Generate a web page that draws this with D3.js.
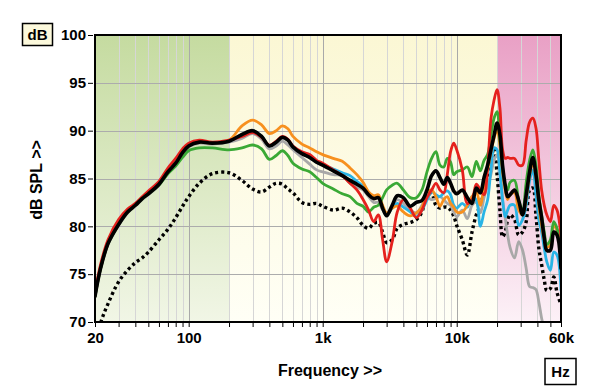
<!DOCTYPE html>
<html lang="en">
<head>
  <meta charset="utf-8">
  <title>Frequency response</title>
  <style>
    body { margin: 0; background: #fff; }
    text { font-family: "Liberation Sans", Arial, sans-serif; font-weight: bold; fill: #000; }
    .grid line { shape-rendering: crispEdges; }
    .axis path { display: none; }
    .axis line { stroke: #000; }
    .axis text { font-size: 15px; }
    .curve { fill: none; stroke-linejoin: round; }
  </style>
</head>
<body>
  <div id="chart"></div>

  <script src="https://d3js.org/d3.v7.min.js"></script>
  <script>
    // frequencies (Hz) shared by every series
    var freqs = [20, 22, 25, 30, 35, 40, 45, 50, 60, 70, 80, 90, 100, 120, 150, 200, 250, 300, 350, 400,
      450, 500, 550, 600, 700, 800, 900, 1000, 1200, 1400, 1600, 1800, 2000, 2200, 2400, 2600, 2800, 3000,
      3300, 3600, 4000, 4500, 5000, 5500, 6000, 6500, 7000, 7500, 8000, 8500, 9000, 9500, 10000, 11000,
      12000, 13000, 14000, 15000, 16000, 17000, 18000, 19000, 20000, 21000, 22000, 23000, 24000, 25000,
      27000, 29000, 31000, 33000, 35000, 37000, 39000, 41000, 43000, 45000, 47000, 50000, 53000, 56000, 60000];

    // dB SPL values
    var black = [72.7, 75.6, 78.2, 80.2, 81.5, 82.2, 82.9, 83.4, 84.4, 85.7, 86.6, 87.7, 88.4, 88.8, 88.7, 88.9, 89.6, 90.0, 89.4, 88.4,
      88.8, 89.3, 89.0, 88.3, 87.6, 87.2, 86.7, 86.4, 85.8, 85.3, 84.8, 84.4, 84.0, 83.3, 82.9, 83.0, 81.9, 81.1,
      82.2, 83.2, 83.0, 82.1, 82.5, 82.7, 83.8, 85.3, 85.8, 85.1, 84.4, 85.1, 84.5, 83.7, 83.4, 83.8,
      83.0, 82.4, 84.0, 83.5, 85.1, 86.4, 88.0, 89.5, 90.8, 89.6, 86.3, 84.3, 83.1, 83.3,
      83.8, 82.7, 81.2, 83.3, 85.7, 87.2, 85.4, 82.75, 80.9, 78.8, 77.5, 77.5, 79.4, 79.1, 75.6];

    var red = [73.1, 76.0, 78.6, 80.7, 81.8, 82.4, 83.1, 83.7, 84.7, 86.1, 87.1, 88.1, 88.7, 89.0, 88.8, 89.0, 89.4, 89.8, 89.3, 88.5,
      88.9, 89.4, 89.1, 88.4, 87.8, 87.5, 86.9, 86.6, 85.9, 85.3, 84.5, 83.8, 82.8, 81.7, 80.5, 81.2, 78.6, 76.3,
      78.4, 81.5, 82.8, 81.9, 80.9, 81.7, 83.0, 83.8, 84.5, 83.8, 83.5, 85.4, 87.8, 88.7, 88.0, 85.9,
      82.4, 82.75, 84.4, 83.8, 83.3, 86.1, 91.2, 93.2, 94.3, 92.4, 88.0, 87.1, 87.2, 87.1,
      87.1, 86.4, 86.4, 89.0, 90.9, 91.3, 90.3, 86.9, 83.8, 82.2, 81.2, 80.5, 82.2, 81.7, 78.9];

    var orange = [72.7, 75.6, 78.2, 80.2, 81.5, 82.2, 82.9, 83.4, 84.4, 85.7, 86.6, 87.7, 88.4, 88.8, 88.7, 89.0, 90.5, 91.1, 90.6, 89.7,
      90.0, 90.5, 90.2, 89.4, 88.6, 88.2, 87.8, 87.5, 87.1, 86.8, 86.1, 85.4, 84.6, 83.6, 83.2, 83.3, 82.2, 81.4,
      81.9, 82.1, 81.5, 81.1, 81.4, 82.0, 83.6, 83.8, 83.1, 82.1, 82.8, 83.1, 82.4, 82.0, 81.5, 81.5,
      82.2, 83.1, 83.6, 82.2, 84.3, 85.9, 87.8, 89.2, 90.1, 88.5, 85.7, 83.8, 82.8, 83.3,
      83.5, 81.7, 81.2, 82.9, 85.4, 86.6, 85.2, 82.2, 80.1, 78.6, 77.8, 78.1, 80.1, 79.6, 76.7];

    var gray = [72.6, 75.5, 78.1, 80.1, 81.4, 82.1, 82.8, 83.3, 84.3, 85.6, 86.5, 87.6, 88.3, 88.7, 88.6, 88.8, 89.2, 89.7, 89.1, 88.1,
      88.4, 88.9, 88.5, 88.0, 87.2, 86.5, 85.9, 85.7, 85.4, 85.3, 84.5, 84.1, 83.8, 83.1, 82.5, 82.5, 81.7, 81.2,
      82.0, 82.8, 82.4, 81.7, 81.4, 82.2, 83.0, 82.8, 82.9, 83.1, 82.8, 82.4, 82.2, 81.5, 81.0, 81.7,
      80.8, 82.2, 82.5, 81.4, 83.0, 84.3, 85.4, 86.9, 87.5, 86.4, 82.75, 80.9, 79.1, 77.8,
      76.7, 78.4, 77.5, 75.6, 73.7, 73.6, 73.4, 72.1, 70.4, 69.2, 67.5, 66.0, 65.0, 65.0, 65.0];

    var cyan = [72.7, 75.6, 78.2, 80.2, 81.5, 82.2, 82.9, 83.4, 84.4, 85.7, 86.6, 87.7, 88.4, 88.8, 88.7, 88.9, 89.6, 90.0, 89.4, 88.4,
      88.8, 89.3, 89.0, 88.3, 87.6, 87.2, 86.7, 86.4, 86.0, 85.6, 85.3, 84.7, 84.2, 83.5, 83.1, 83.2, 82.0, 81.3,
      81.9, 82.4, 82.0, 81.5, 81.0, 81.7, 82.75, 83.6, 83.3, 83.1, 83.5, 83.7, 83.3, 82.2, 81.9, 82.4,
      82.0, 83.1, 82.75, 80.0, 81.5, 82.75, 85.9, 88.2, 88.0, 85.6, 82.75, 81.0, 81.7, 82.2,
      82.2, 80.1, 80.7, 82.2, 84.8, 85.9, 83.3, 80.7, 79.4, 77.7, 76.3, 75.4, 77.3, 77.0, 73.3];

    var green = [72.7, 75.6, 78.2, 80.2, 81.5, 82.2, 82.9, 83.4, 84.3, 85.5, 86.3, 87.2, 87.9, 88.2, 88.2, 88.0, 88.2, 88.5, 88.1, 87.0,
      87.4, 87.9, 87.4, 86.6, 86.0, 85.7, 85.1, 84.5, 83.9, 83.4, 83.1, 82.4, 82.1, 81.5, 82.0, 82.2, 83.0, 83.8,
      84.3, 84.5, 83.8, 83.0, 83.0, 83.8, 85.7, 87.1, 87.8, 86.4, 86.2, 87.1, 86.7, 85.4, 85.7, 85.9,
      86.2, 85.2, 86.8, 85.8, 86.9, 87.5, 89.5, 91.3, 92.0, 89.0, 86.1, 84.3, 83.8, 84.6,
      84.8, 82.75, 81.7, 84.6, 86.9, 88.0, 86.4, 83.3, 81.2, 79.4, 78.1, 78.6, 80.5, 79.8, 77.5];

    var dotted = [67.5, 69.9, 71.9, 74.2, 75.4, 76.2, 76.7, 77.3, 78.6, 79.7, 80.9, 82.1, 83.1, 84.5, 85.5, 85.6, 84.8, 83.9, 83.6, 84.1,
      84.5, 84.4, 83.9, 83.5, 82.5, 82.3, 82.4, 82.1, 81.7, 81.9, 81.5, 80.9, 80.1, 79.8, 80.3, 80.4, 79.4, 78.3,
      78.6, 79.8, 80.2, 80.4, 80.7, 81.5, 83.3, 83.4, 82.2, 81.9, 82.0, 82.0, 81.7, 81.1, 80.1, 78.6,
      77.0, 79.4, 81.2, 82.2, 83.6, 85.1, 86.9, 88.2, 85.4, 81.7, 78.9, 79.4, 80.7, 81.2,
      80.7, 79.1, 79.4, 80.5, 83.8, 84.0, 81.2, 77.7, 76.0, 74.4, 73.3, 73.5, 74.7, 73.1, 71.8];

    var yTicks = [70, 75, 80, 85, 90, 95, 100];
    var xLabels = { 20: "20", 100: "100", 1000: "1k", 10000: "10k", 60000: "60k" };
    var bands = [
      { from: 20, to: 200, top: "#c5dba0", bottom: "#f1f6e6" },
      { from: 200, to: 20000, top: "#fbf7d4", bottom: "#fffff6" },
      { from: 20000, to: 60000, top: "#e9a0c5", bottom: "#fcf1f7" }
    ];

    var pLeft = 95, pRight = 561, pTop = 35, pBottom = 322;

    var x = d3.scaleLog().domain([20, 60000]).range([pLeft, pRight]);
    var y = d3.scaleLinear().domain([70, 100]).range([pBottom, pTop]);

    var svg = d3.select("#chart").append("svg")
        .attr("width", 600)
        .attr("height", 389);

    var defs = svg.append("defs");
    bands.forEach(function(b, i) {
      var g = defs.append("linearGradient").attr("id", "band" + i)
          .attr("x1", 0).attr("y1", 0).attr("x2", 0).attr("y2", 1);
      g.append("stop").attr("offset", "0%").attr("stop-color", b.top);
      g.append("stop").attr("offset", "100%").attr("stop-color", b.bottom);
    });
    defs.append("clipPath").attr("id", "plot")
      .append("rect").attr("x", pLeft).attr("y", pTop)
      .attr("width", pRight - pLeft).attr("height", pBottom - pTop);

    svg.selectAll(".band")
        .data(bands)
        .enter().append("rect")
        .attr("class", "band")
        .attr("x", function(d) { return x(d.from); })
        .attr("y", pTop)
        .attr("width", function(d) { return x(d.to) - x(d.from); })
        .attr("height", pBottom - pTop)
        .attr("fill", function(d, i) { return "url(#band" + i + ")"; });

    // log grid
    var logTicks = [];
    [10, 100, 1000, 10000].forEach(function(dec) {
      for (var k = 1; k < 10; k++) {
        var f = dec * k;
        if (f >= 20 && f <= 60000) logTicks.push(f);
      }
    });

    var grid = svg.append("g").attr("class", "grid");
    grid.selectAll(".vx")
        .data(logTicks.filter(function(f) { return f > 20 && f < 60000; }))
        .enter().append("line")
        .attr("x1", function(d) { return Math.round(x(d)) + 0.5; })
        .attr("x2", function(d) { return Math.round(x(d)) + 0.5; })
        .attr("y1", pTop).attr("y2", pBottom)
        .attr("stroke", function(d) { return xLabels[d] ? "#a9a9a9" : "#d6d6d6"; })
        .attr("stroke-width", function(d) { return xLabels[d] ? 1.5 : 1; });

    grid.selectAll(".hy")
        .data(yTicks.slice(1, -1))
        .enter().append("line")
        .attr("x1", pLeft).attr("x2", pRight)
        .attr("y1", function(d) { return Math.round(y(d)) + 0.5; })
        .attr("y2", function(d) { return Math.round(y(d)) + 0.5; })
        .attr("stroke", "#acacac")
        .attr("stroke-width", 1.2);

    // curves
    var line = d3.line()
        .x(function(d) { return x(d[0]); })
        .y(function(d) { return y(d[1]); })
        .curve(d3.curveCatmullRom.alpha(0.5));

    var series = [
      { v: dotted, color: "#000", width: 3.4, dash: "3,3" },
      { v: gray, color: "#a8a8a8", width: 2.8 },
      { v: cyan, color: "#29b4e6", width: 2.8 },
      { v: orange, color: "#f7901e", width: 2.8 },
      { v: green, color: "#3aa935", width: 2.8 },
      { v: red, color: "#e5211d", width: 2.8 },
      { v: black, color: "#000", width: 3.6 }
    ];

    var curves = svg.append("g").attr("clip-path", "url(#plot)");
    curves.selectAll(".curve")
        .data(series)
        .enter().append("path")
        .attr("class", "curve")
        .attr("d", function(s) { return line(freqs.map(function(f, i) { return [f, s.v[i]]; })); })
        .attr("stroke", function(s) { return s.color; })
        .attr("stroke-width", function(s) { return s.width; })
        .attr("stroke-linecap", function(s) { return s.dash ? "butt" : "round"; })
        .attr("stroke-dasharray", function(s) { return s.dash || null; });

    // frame
    svg.append("rect")
        .attr("x", pLeft).attr("y", pTop)
        .attr("width", pRight - pLeft).attr("height", pBottom - pTop)
        .attr("fill", "none").attr("stroke", "#000").attr("stroke-width", 2);

    // axes
    svg.append("g")
        .attr("class", "axis")
        .attr("transform", "translate(0," + (pBottom + 1) + ")")
        .call(d3.axisBottom(x)
          .tickValues(logTicks)
          .tickSize(4)
          .tickPadding(5)
          .tickFormat(function(d) { return xLabels[d] || ""; }));

    svg.append("g")
        .attr("class", "axis")
        .attr("transform", "translate(" + (pLeft - 2) + ",0)")
        .call(d3.axisLeft(y)
          .tickValues(yTicks)
          .tickSize(5)
          .tickPadding(2)
          .tickFormat(d3.format("d")));

    // labels
    svg.append("text")
        .attr("x", 330).attr("y", 376)
        .attr("text-anchor", "middle")
        .style("font-size", "16px")
        .text("Frequency >>");

    svg.append("text")
        .attr("transform", "translate(42,180) rotate(-90)")
        .attr("text-anchor", "middle")
        .style("font-size", "16px")
        .text("dB SPL >>");

    svg.append("rect")
        .attr("x", 22.5).attr("y", 23.5).attr("width", 30).attr("height", 22)
        .attr("fill", "#fcf9dc").attr("stroke", "#000").attr("stroke-width", 1.5);
    svg.append("text")
        .attr("x", 37.5).attr("y", 40)
        .attr("text-anchor", "middle")
        .style("font-size", "15px")
        .text("dB");

    svg.append("rect")
        .attr("x", 545).attr("y", 358.5).attr("width", 31).attr("height", 26)
        .attr("fill", "#fff").attr("stroke", "#000").attr("stroke-width", 1.5);
    svg.append("text")
        .attr("x", 560.5).attr("y", 377)
        .attr("text-anchor", "middle")
        .style("font-size", "15px")
        .text("Hz");
  </script>
</body>
</html>
